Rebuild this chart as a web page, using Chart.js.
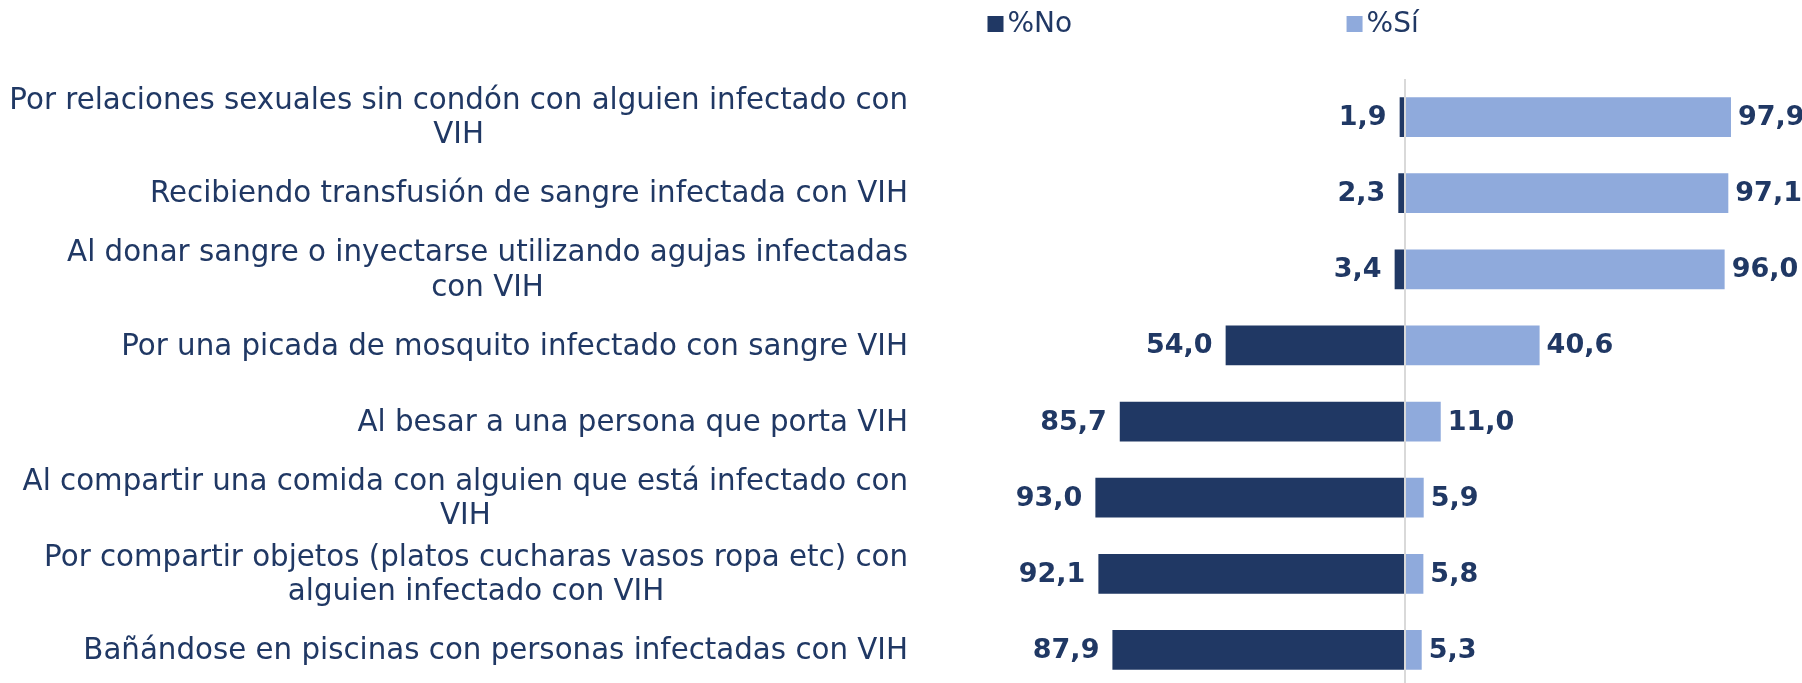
<!DOCTYPE html>
<html><head><meta charset="utf-8">
<style>html,body{margin:0;padding:0;background:#fff;overflow:hidden}#wrap{width:1802px;height:690px}</style>
<script src="https://cdn.jsdelivr.net/npm/chart.js@4/dist/chart.umd.min.js"></script>
</head><body><div id="wrap"><canvas id="c" width="1802" height="690"></canvas></div>
<script>
const categories = [
  ["Por relaciones sexuales sin condón con alguien infectado con", "VIH"],
  ["Recibiendo transfusión de sangre infectada con VIH"],
  ["Al donar sangre o inyectarse utilizando agujas infectadas", "con VIH"],
  ["Por una picada de mosquito infectado con sangre VIH"],
  ["Al besar a una persona que porta VIH"],
  ["Al compartir una comida con alguien que está infectado con", "VIH"],
  ["Por compartir objetos (platos cucharas vasos ropa etc) con", "alguien infectado con VIH"],
  ["Bañándose en piscinas con personas infectadas con VIH"]
];
const pctNo = [1.9, 2.3, 3.4, 54.0, 85.7, 93.0, 92.1, 87.9];
const pctSi = [97.9, 97.1, 96.0, 40.6, 11.0, 5.9, 5.8, 5.3];
const seriesNames = ["%No", "%Sí"];

const NAVY = '#203864';
const LIGHT = '#8FAADC';
const FONT = '"DejaVu Sans", Verdana, sans-serif';
const fmt = v => v.toFixed(1).replace('.', ',');

const yLabelPlugin = {
  id: 'yLabels',
  afterDraw(chart) {
    const ctx = chart.ctx, ys = chart.scales.y;
    ctx.save();
    ctx.font = '29.3px ' + FONT;
    ctx.fillStyle = NAVY;
    ctx.textBaseline = 'middle';
    ctx.textAlign = 'center';
    categories.forEach((lines, i) => {
      const yc = ys.getPixelForValue(i) + 1.5;
      const w = Math.max(...lines.map(l => ctx.measureText(l).width));
      const cx = ys.right + 4 - w / 2;
      lines.forEach((l, j) => ctx.fillText(l, cx, yc + (j - (lines.length - 1) / 2) * 34.5));
    });
    ctx.restore();
  }
};

const valueLabelPlugin = {
  id: 'valueLabels',
  afterDatasetsDraw(chart) {
    const ctx = chart.ctx;
    ctx.save();
    ctx.font = 'bold 27px ' + FONT;
    ctx.fillStyle = NAVY;
    ctx.textBaseline = 'middle';
    [pctNo, pctSi].forEach((vals, d) => {
      const meta = chart.getDatasetMeta(d);
      meta.data.forEach((el, i) => {
        if (d === 0) { ctx.textAlign = 'right'; ctx.fillText(fmt(vals[i]), el.x - 12, el.y + 1); }
        else { ctx.textAlign = 'left'; ctx.fillText(fmt(vals[i]), el.x + 6, el.y + 1); }
      });
    });
    ctx.restore();
  }
};

const legendPlugin = {
  id: 'customLegend',
  afterDraw(chart) {
    const ctx = chart.ctx;
    const xs = chart.scales.x;
    ctx.save();
    ctx.font = '28px ' + FONT;
    ctx.textBaseline = 'middle';
    ctx.textAlign = 'left';
    const starts = [xs.getPixelForValue(-125), xs.getPixelForValue(-17.5)];
    chart.data.datasets.forEach((ds, i) => {
      const x = starts[i], y = 24;
      ctx.fillStyle = ds.backgroundColor;
      ctx.fillRect(x, y - 8, 16, 16);
      ctx.fillStyle = NAVY;
      ctx.fillText(ds.label, x + 20, y + 1);
    });
    ctx.restore();
  }
};

new Chart(document.getElementById('c'), {
  type: 'bar',
  data: {
    labels: categories,
    datasets: [
      { label: seriesNames[0], data: pctNo.map(v => -v), backgroundColor: NAVY, borderColor: 'rgba(255,255,255,0.55)', borderWidth: 1 },
      { label: seriesNames[1], data: pctSi, backgroundColor: LIGHT, borderColor: 'rgba(255,255,255,0.55)', borderWidth: 1 }
    ]
  },
  options: {
    indexAxis: 'y',
    responsive: false,
    devicePixelRatio: 1,
    animation: false,
    layout: { padding: { top: 79, bottom: 2, left: 0, right: 29.6 } },
    datasets: { bar: { barPercentage: 0.55, categoryPercentage: 1.0 } },
    plugins: { legend: { display: false }, tooltip: { enabled: false } },
    scales: {
      x: {
        stacked: true, min: -150, max: 110,
        ticks: { display: false },
        border: { display: false },
        grid: {
          drawTicks: false,
          lineWidth: 2,
          color: c => (c.tick && c.tick.value === 0) ? '#d9d9d9' : 'transparent'
        }
      },
      y: {
        stacked: true,
        ticks: { display: false },
        border: { display: false },
        grid: { display: false },
        afterFit(s) { s.width = 904; }
      }
    }
  },
  plugins: [yLabelPlugin, valueLabelPlugin, legendPlugin]
});
</script>
</body></html>
